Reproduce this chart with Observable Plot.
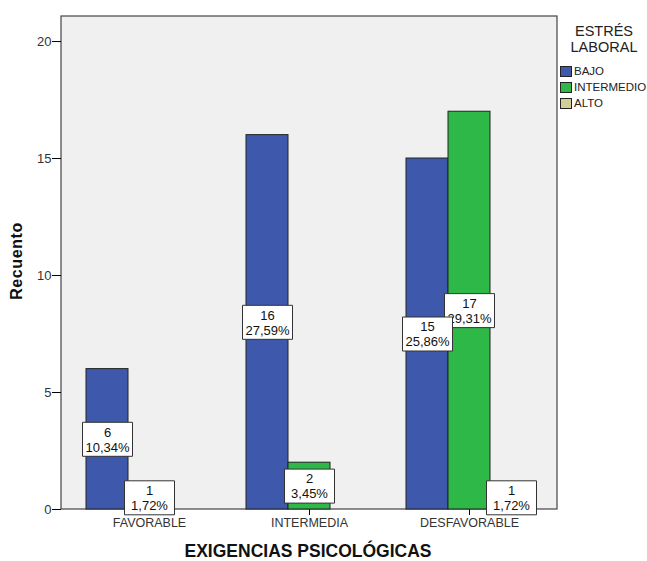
<!DOCTYPE html>
<html>
<head>
<meta charset="utf-8">
<script src="https://cdn.jsdelivr.net/npm/d3@7"></script>
<script src="https://cdn.jsdelivr.net/npm/@observablehq/plot@0.6"></script>
<style>
  html, body { margin: 0; padding: 0; background: #ffffff; }
  #wrap { position: relative; width: 647px; height: 561px; font-family: "Liberation Sans", Arial, sans-serif; }
  #wrap svg { position: absolute; left: 0; top: 0; }
  g[aria-label^="fx-axis"] text { font-size: 12.5px; fill: #333; }
  g[aria-label^="y-axis"] text { font-size: 13px; fill: #333; }
  .ytitle { position: absolute; left: 17px; top: 261px; transform: translate(-50%, -50%) rotate(-90deg); font-weight: bold; font-size: 16px; color: #111; white-space: nowrap; letter-spacing: 0.6px; }
  .xtitle { position: absolute; left: 308px; top: 551px; transform: translate(-50%, -50%); font-weight: bold; font-size: 17.5px; color: #111; white-space: nowrap; }
  .legend { position: absolute; left: 558px; top: 23px; width: 90px; color: #222; }
  .legend .ttl { text-align: center; font-size: 14.5px; line-height: 16px; margin-left: 2px; }
  .legend .items { margin-top: 8px; }
  .legend .item { display: flex; align-items: center; height: 16px; font-size: 11.5px; }
  .legend .sw { width: 10px; height: 9px; border: 1px solid #222; margin-right: 2px; margin-left: 2px; }
</style>
</head>
<body>
<div id="wrap"></div>
<script>
// ---- data ----
const groups = ["FAVORABLE", "INTERMEDIA", "DESFAVORABLE"];
const levels = ["BAJO", "INTERMEDIO", "ALTO"];
const colors = ["#3E58AC", "#2EB848", "#D3CE97"];
const bajo = [6, 16, 15];
const intermedio = [1, 2, 17];
const alto = [0, 0, 1];
const bajoPct = ["10,34%", "27,59%", "25,86%"];
const intermedioPct = ["1,72%", "3,45%", "29,31%"];
const altoPct = ["", "", "1,72%"];
const yTicks = [0, 5, 10, 15, 20];
const xTitle = "EXIGENCIAS PSICOLÓGICAS";
const yTitle = "Recuento";
const legendTitle = ["ESTRÉS", "LABORAL"];

const series = [bajo, intermedio, alto];
const pcts = [bajoPct, intermedioPct, altoPct];
const data = groups.flatMap((g, i) => levels.map((l, j) => ({
  group: g, level: l, count: series[j][i], pct: pcts[j][i],
  label: series[j][i] + "\n" + pcts[j][i]
}))).filter(d => d.count > 0);

const W = 647, H = 561, mL = 61, mR = 90, mT = 16, mB = 52;

const boxSymbol = { draw(ctx) { ctx.rect(-25, -17, 50, 34); } };

function labelMarks(rows) {
  return [
    Plot.dot(rows, { fx: "group", x: "level", y: d => d.count / 2, symbol: boxSymbol, fill: "white", stroke: "#333", strokeWidth: 1 }),
    Plot.text(rows, { fx: "group", x: "level", y: d => d.count / 2, text: "label", fontSize: 13, lineHeight: 1.15, fill: "#111" })
  ];
}

const chart = Plot.plot({
  width: W, height: H,
  marginLeft: mL, marginRight: mR, marginTop: mT, marginBottom: mB,
  style: { fontFamily: "'Liberation Sans', Arial, sans-serif", fontSize: "13px", background: "transparent", overflow: "visible" },
  fx: { domain: groups, paddingInner: 0.2125, paddingOuter: 0.153, label: null, axis: "bottom", tickSize: 6, tickPadding: 3 },
  x: { domain: levels, axis: null, paddingInner: 0, paddingOuter: 0 },
  y: { domain: [0, 21.07], ticks: yTicks, tickSize: 9, tickPadding: 1, label: null },
  color: { domain: levels, range: colors },
  marks: [
    Plot.barY(data, { fx: "group", x: "level", y: "count", fill: "level", stroke: "#222", strokeWidth: 1 }),
    ...labelMarks(data.filter(d => d.level !== "BAJO")),
    ...labelMarks(data.filter(d => d.level === "BAJO"))
  ]
});

// plot-area background and frame
d3.select(chart).insert("rect", ":first-child")
  .attr("x", mL).attr("y", mT)
  .attr("width", W - mL - mR).attr("height", H - mT - mB)
  .attr("fill", "#F0F0F0").attr("stroke", "#444").attr("stroke-width", 1.2);

// move the y axis (drawn beside the first facet) onto the plot-area edge
const fxScale = chart.scale("fx");
const dx = fxScale.apply(groups[0]) - mL;
d3.select(chart).selectAll('g[aria-label^="y-axis"]').each(function () {
  const old = this.getAttribute("transform");
  this.setAttribute("transform", (old ? old + " " : "") + `translate(${-dx},0)`);
});

const wrap = document.getElementById("wrap");
wrap.appendChild(chart);

const yt = document.createElement("div"); yt.className = "ytitle"; yt.textContent = yTitle; wrap.appendChild(yt);
const xt = document.createElement("div"); xt.className = "xtitle"; xt.textContent = xTitle; wrap.appendChild(xt);

const lg = document.createElement("div"); lg.className = "legend";
lg.innerHTML = `<div class="ttl">${legendTitle.join("<br>")}</div><div class="items">` +
  levels.map((l, i) => `<div class="item"><span class="sw" style="background:${colors[i]}"></span><span>${l}</span></div>`).join("") +
  `</div>`;
wrap.appendChild(lg);
</script>
</body>
</html>
